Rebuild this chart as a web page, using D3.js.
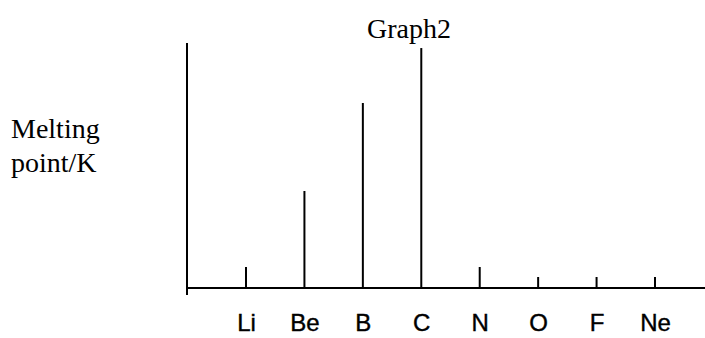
<!DOCTYPE html>
<html><head><meta charset="utf-8">
<script src="https://cdn.jsdelivr.net/npm/d3@7"></script>
<style>body{margin:0;background:#fff}</style>
</head><body>
<svg id="c" width="705" height="338"></svg>
<script>
const elements = ["Li","Be","B","C","N","O","F","Ne"];
const meltingPoints = [333, 1536, 2930, 3800, 333, 174, 174, 174];
const yMax = 3880;
const title = "Graph2";
const yLabel = ["Melting", "point/K"];

const svg = d3.select("#c");
const x = d3.scalePoint().domain(elements).range([246, 655]);
const y = d3.scaleLinear().domain([0, yMax]).range([288, 43]);

// title
svg.append("text").attr("x", 409).attr("y", 38).attr("text-anchor","middle")
  .attr("font-family","Liberation Serif, Times New Roman, serif").attr("font-size", 28)
  .text(title);

// y label
svg.append("text").attr("font-family","Liberation Serif, Times New Roman, serif")
  .attr("font-size", 28).selectAll("tspan").data(yLabel).join("tspan")
  .attr("x", 11).attr("y", (d,i) => 138 + i*34).text(d => d);

// axes lines
svg.append("line").attr("x1",187).attr("x2",187).attr("y1",y(yMax)).attr("y2",295)
  .attr("stroke","#000").attr("stroke-width",2);
svg.append("line").attr("x1",187).attr("x2",705).attr("y1",y(0)).attr("y2",y(0))
  .attr("stroke","#000").attr("stroke-width",2);

// stems
svg.selectAll("line.stem").data(elements).join("line").attr("class","stem")
  .attr("x1", d => x(d)).attr("x2", d => x(d))
  .attr("y1", y(0)).attr("y2", (d,i) => y(meltingPoints[i]))
  .attr("stroke","#000").attr("stroke-width",2);

// category labels via axis
const ax = svg.append("g").attr("transform", `translate(0,${y(0)})`)
  .call(d3.axisBottom(x).tickSize(0).tickPadding(26));
ax.select(".domain").remove();
ax.selectAll("text").attr("font-family","Liberation Sans, Arial, sans-serif")
  .attr("font-size", 24).attr("fill","#000").attr("stroke","#000").attr("stroke-width",0.4);
</script>
</body></html>
